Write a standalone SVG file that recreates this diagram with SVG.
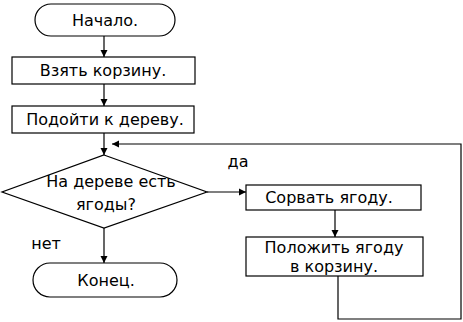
<svg xmlns="http://www.w3.org/2000/svg" width="463" height="322" viewBox="0 0 463 322">
<style>
.s{fill:#fff;stroke:#000;stroke-width:1.2}
.t{font-family:"DejaVu Sans","Open Sans",sans-serif;font-size:16px;fill:#000;text-anchor:middle;dominant-baseline:central}
.l{fill:none;stroke:#000;stroke-width:1.2}
</style>
<defs>
<marker id="a" markerWidth="8" markerHeight="8" refX="7" refY="4" orient="auto" markerUnits="userSpaceOnUse">
<path d="M0,0.5 L7,4 L0,7.5 Z" fill="#000"/>
</marker>
</defs>
<rect width="463" height="322" fill="#fff"/>
<g id="connectors">
<line class="l" x1="104" y1="36" x2="104" y2="57" marker-end="url(#a)"/>
<line class="l" x1="104" y1="84" x2="104" y2="106" marker-end="url(#a)"/>
<line class="l" x1="104" y1="133" x2="104" y2="155" marker-end="url(#a)"/>
<polyline class="l" points="338,276 338,319 461,319 461,144 112,144" marker-end="url(#a)"/>
<line class="l" x1="207" y1="192" x2="246" y2="192" marker-end="url(#a)"/>
<line class="l" x1="335" y1="210" x2="335" y2="237" marker-end="url(#a)"/>
<line class="l" x1="104" y1="228" x2="104" y2="263" marker-end="url(#a)"/>
<text class="t" x="238" y="161">да</text>
<text class="t" x="46" y="243">нет</text>
</g>
<g id="start">
<rect class="s" x="35" y="4" width="140" height="32" rx="16"/>
<text class="t" x="105" y="20">Начало.</text>
</g>
<g id="take">
<rect class="s" x="12" y="57" width="183" height="27"/>
<text class="t" x="103" y="70">Взять корзину.</text>
</g>
<g id="go">
<rect class="s" x="12" y="106" width="182" height="27"/>
<text class="t" x="105" y="119">Подойти к дереву.</text>
</g>
<g id="decision">
<polygon class="s" points="104,155 207,192 104,228 2,192"/>
<text class="t" x="111" y="181">На дереве есть</text>
<text class="t" x="106" y="204">ягоды?</text>
</g>
<g id="pick">
<rect class="s" x="246" y="185" width="175" height="25"/>
<text class="t" x="329" y="197">Сорвать ягоду.</text>
</g>
<g id="put">
<rect class="s" x="246" y="237" width="177" height="39"/>
<text class="t" x="334" y="247">Положить ягоду</text>
<text class="t" x="334" y="266">в корзину.</text>
</g>
<g id="end">
<rect class="s" x="33" y="263" width="144" height="34" rx="17"/>
<text class="t" x="106" y="280">Конец.</text>
</g>
</svg>
